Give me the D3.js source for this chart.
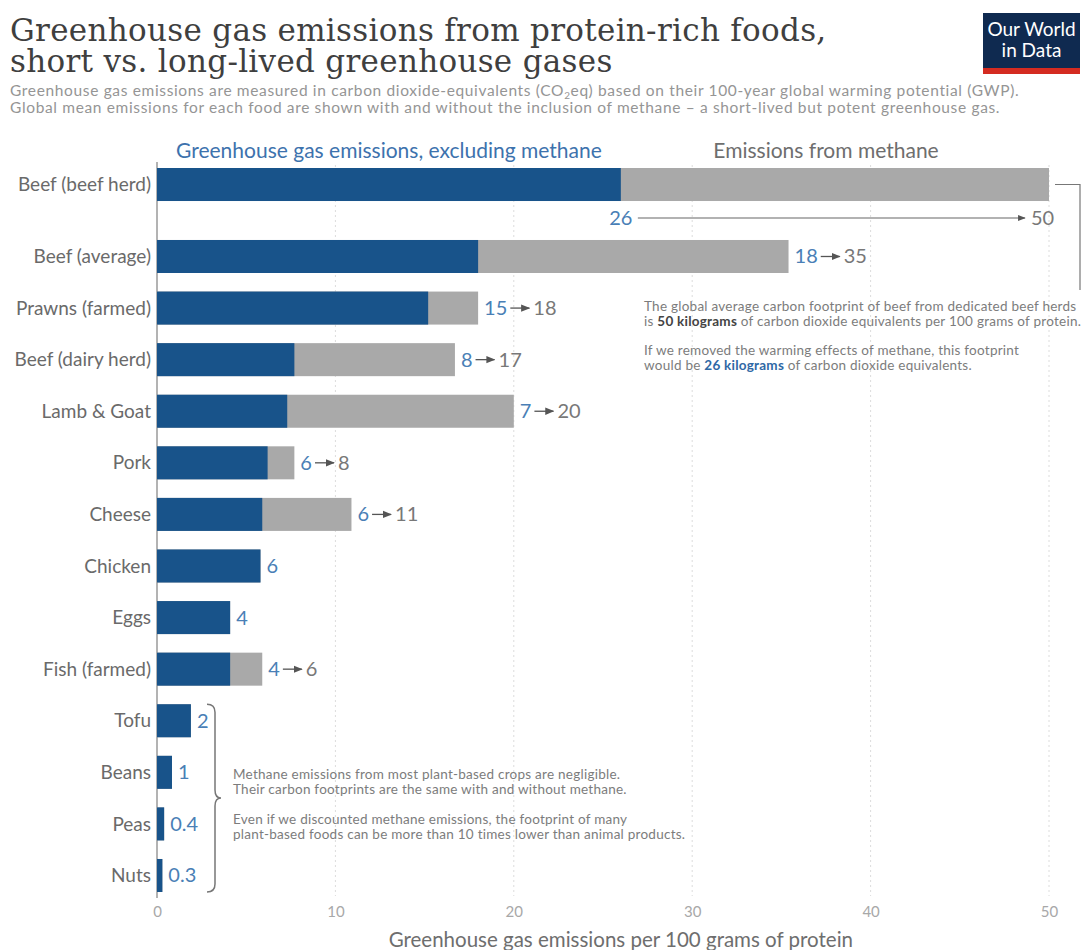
<!DOCTYPE html>
<html>
<head>
<meta charset="utf-8">
<script src="https://cdn.jsdelivr.net/npm/d3@7"></script>
<style>
  body { margin: 0; background: #fff; }
  text { font-family: Lato, "Open Sans", sans-serif; }
</style>
</head>
<body>
<svg id="chart" width="1089" height="950"></svg>
<script>
// data
const foods = ["Beef (beef herd)", "Beef (average)", "Prawns (farmed)", "Beef (dairy herd)", "Lamb & Goat",
  "Pork", "Cheese", "Chicken", "Eggs", "Fish (farmed)", "Tofu", "Beans", "Peas", "Nuts"];
const exclMethane = [26, 18, 15.2, 7.7, 7.3, 6.2, 5.9, 5.8, 4.1, 4.1, 1.9, 0.84, 0.4, 0.3];
const withMethane = [50, 35.4, 18, 16.7, 20, 7.7, 10.9, 5.8, 4.1, 5.9, 1.9, 0.84, 0.4, 0.3];
const xTicks = [0, 10, 20, 30, 40, 50];

const darkBlue = "#18538a", grayBar = "#a9a9a9", blueText = "#4a7fb6", grayText = "#787878";

const svg = d3.select("#chart");
const x = d3.scaleLinear().domain([0, 50]).range([157, 1049]);
const y = d3.scaleBand().domain(foods).range([188.4, 892]).paddingInner(0.36).paddingOuter(0);
const firstShift = -20.4; // extra gap after first bar
const yPos = d => y(d) + (d === foods[0] ? firstShift : 0);
const fmt = v => v >= 0.5 ? d3.format(".0f")(v) : d3.format(".1f")(v);

const data = foods.map((f, i) => ({ food: f, excl: exclMethane[i], total: withMethane[i] }));

// Title
const title = svg.append("text").attr("x", 10).attr("y", 41)
  .style("font-family", "'DejaVu Serif', 'Liberation Serif', serif").style("font-size", "31px")
  .style("letter-spacing", "0.3px").attr("fill", "#3f3f3f");
title.append("tspan").attr("x", 10).text("Greenhouse gas emissions from protein-rich foods,");
title.append("tspan").attr("x", 10).attr("dy", 31).text("short vs. long-lived greenhouse gases");

const sub = svg.append("text").attr("x", 10).attr("y", 96).attr("fill", "#959595")
  .style("font-size", "15.5px").style("letter-spacing", "0.65px");
const s1 = sub.append("tspan").attr("x", 10);
s1.append("tspan").text("Greenhouse gas emissions are measured in carbon dioxide-equivalents (CO");
s1.append("tspan").attr("dy", 3).style("font-size", "10px").text("2");
s1.append("tspan").attr("dy", -3).text("eq) based on their 100-year global warming potential (GWP).");
sub.append("tspan").attr("x", 10).attr("dy", 17).text("Global mean emissions for each food are shown with and without the inclusion of methane – a short-lived but potent greenhouse gas.");

// Logo
const logo = svg.append("g").attr("transform", "translate(983,13)");
logo.append("rect").attr("width", 97).attr("height", 61).attr("fill", "#0f2a50");
logo.append("rect").attr("y", 55).attr("width", 97).attr("height", 6).attr("fill", "#d42b21");
logo.append("text").attr("x", 48.5).attr("y", 23).attr("text-anchor", "middle").attr("fill", "#fff")
  .style("font-size", "19px").text("Our World");
logo.append("text").attr("x", 48.5).attr("y", 44).attr("text-anchor", "middle").attr("fill", "#fff")
  .style("font-size", "19px").text("in Data");

// Column headers
svg.append("text").attr("x", x(13)).attr("y", 158).attr("text-anchor", "middle")
  .attr("fill", "#3d72ad").style("font-size", "21px").text("Greenhouse gas emissions, excluding methane");
svg.append("text").attr("x", x(37.5)).attr("y", 158).attr("text-anchor", "middle")
  .attr("fill", "#6e6e6e").style("font-size", "21px").text("Emissions from methane");

// Gridlines
svg.append("g").selectAll("line").data(xTicks.slice(1)).join("line")
  .attr("x1", d => x(d)).attr("x2", d => x(d)).attr("y1", 165).attr("y2", 896)
  .attr("stroke", "#dcdcdc").attr("stroke-dasharray", "2,3");

// X axis
const xAxis = svg.append("g").attr("transform", "translate(0,897)")
  .call(d3.axisBottom(x).tickValues(xTicks).tickSize(0).tickPadding(9));
xAxis.select(".domain").remove();
xAxis.selectAll("text").attr("fill", "#a8a8a8").style("font-size", "15px").style("font-family", "Lato");
svg.append("line").attr("x1", x(0)).attr("x2", x(0)).attr("y1", 162).attr("y2", 898)
  .attr("stroke", "#9a9a9a").attr("stroke-width", 1.5);
svg.append("text").attr("x", x(26)).attr("y", 947).attr("text-anchor", "middle")
  .attr("fill", "#6e6e6e").style("font-size", "20.5px").text("Greenhouse gas emissions per 100 grams of protein");

// Bars
const rows = svg.append("g").selectAll("g").data(data).join("g")
  .attr("transform", d => `translate(0,${yPos(d.food)})`);
rows.append("rect").attr("x", x(0)).attr("width", d => x(d.total) - x(0)).attr("height", y.bandwidth()).attr("fill", grayBar);
rows.append("rect").attr("x", x(0)).attr("width", d => x(d.excl) - x(0)).attr("height", y.bandwidth()).attr("fill", darkBlue);

// Category labels
rows.append("text").attr("x", x(0) - 6).attr("y", y.bandwidth() / 2).attr("dy", "0.35em")
  .attr("text-anchor", "end").attr("fill", "#6a6a6a").style("font-size", "19px").text(d => d.food);

// Arrow marker
svg.append("defs").append("marker").attr("id", "arr").attr("viewBox", "0 0 10 10")
  .attr("refX", 9).attr("refY", 5).attr("markerWidth", 7).attr("markerHeight", 7).attr("orient", "auto")
  .append("path").attr("d", "M0,1 L10,5 L0,9 Z").attr("fill", "#555");

// Value labels
rows.filter((d, i) => i > 0).each(function (d) {
  const g = d3.select(this);
  const yc = y.bandwidth() / 2;
  const t1 = g.append("text").attr("x", x(d.total) + 6).attr("y", yc).attr("dy", "0.35em")
    .attr("fill", blueText).style("font-size", "20px").text(fmt(d.excl));
  if (fmt(d.total) !== fmt(d.excl)) {
    const x0 = x(d.total) + 6 + t1.node().getComputedTextLength() + 3;
    g.append("line").attr("x1", x0).attr("x2", x0 + 19).attr("y1", yc).attr("y2", yc)
      .attr("stroke", "#555").attr("stroke-width", 1.3).attr("marker-end", "url(#arr)");
    g.append("text").attr("x", x0 + 23).attr("y", yc).attr("dy", "0.35em")
      .attr("fill", grayText).style("font-size", "20px").text(fmt(d.total));
  }
});

// Beef herd label below bar
const b = data[0];
const by = yPos(b.food) + y.bandwidth() + 17;
svg.append("text").attr("x", x(b.excl)).attr("y", by).attr("dy", "0.35em").attr("text-anchor", "middle")
  .attr("fill", blueText).style("font-size", "20px").text(fmt(b.excl));
svg.append("line").attr("x1", x(b.excl) + 17).attr("x2", x(b.total) - 24).attr("y1", by).attr("y2", by)
  .attr("stroke", "#666").attr("stroke-width", 1.1).attr("marker-end", "url(#arr)");
svg.append("text").attr("x", x(b.total) - 18).attr("y", by).attr("dy", "0.35em")
  .attr("fill", grayText).style("font-size", "20px").text(fmt(b.total));

// Beef annotation connector
const byMid = yPos(b.food) + y.bandwidth() / 2;
svg.append("path").attr("d", `M${x(b.total) + 6},${byMid} H${x(b.total) + 31} V290`)
  .attr("fill", "none").attr("stroke", "#777").attr("stroke-width", 1.2);

const note = svg.append("g").attr("fill", "#7c7c7c").style("font-size", "13.5px").style("letter-spacing", "0.25px");
const n1 = note.append("text").attr("x", 644).attr("y", 311);
n1.append("tspan").attr("x", 644).text("The global average carbon footprint of beef from dedicated beef herds");
const n1b = n1.append("tspan").attr("x", 644).attr("dy", 15);
n1b.append("tspan").text("is ");
n1b.append("tspan").attr("fill", "#444").style("font-weight", "bold").text("50 kilograms");
n1b.append("tspan").text(" of carbon dioxide equivalents per 100 grams of protein.");
const n2 = note.append("text").attr("x", 644).attr("y", 355);
n2.append("tspan").attr("x", 644).text("If we removed the warming effects of methane, this footprint");
const n2b = n2.append("tspan").attr("x", 644).attr("dy", 15);
n2b.append("tspan").text("would be ");
n2b.append("tspan").attr("fill", "#2f68a5").style("font-weight", "bold").text("26 kilograms");
n2b.append("tspan").text(" of carbon dioxide equivalents.");

// Plant brace
const braceTop = yPos("Tofu"), braceBot = yPos("Nuts") + y.bandwidth(), braceMid = (braceTop + braceBot) / 2;
const bx = 207;
svg.append("path")
  .attr("d", `M${bx},${braceTop} Q${bx + 8},${braceTop} ${bx + 8},${braceTop + 8} V${braceMid - 8} Q${bx + 8},${braceMid} ${bx + 14},${braceMid} Q${bx + 8},${braceMid} ${bx + 8},${braceMid + 8} V${braceBot - 8} Q${bx + 8},${braceBot} ${bx},${braceBot}`)
  .attr("fill", "none").attr("stroke", "#777").attr("stroke-width", 1.5);

const pn = svg.append("g").attr("fill", "#7c7c7c").style("font-size", "13.5px").style("letter-spacing", "0.25px");
const p1 = pn.append("text").attr("y", 779);
p1.append("tspan").attr("x", 233).text("Methane emissions from most plant-based crops are negligible.");
p1.append("tspan").attr("x", 233).attr("dy", 15).text("Their carbon footprints are the same with and without methane.");
const p2 = pn.append("text").attr("y", 824);
p2.append("tspan").attr("x", 233).text("Even if we discounted methane emissions, the footprint of many");
p2.append("tspan").attr("x", 233).attr("dy", 15).text("plant-based foods can be more than 10 times lower than animal products.");
</script>
</body>
</html>
